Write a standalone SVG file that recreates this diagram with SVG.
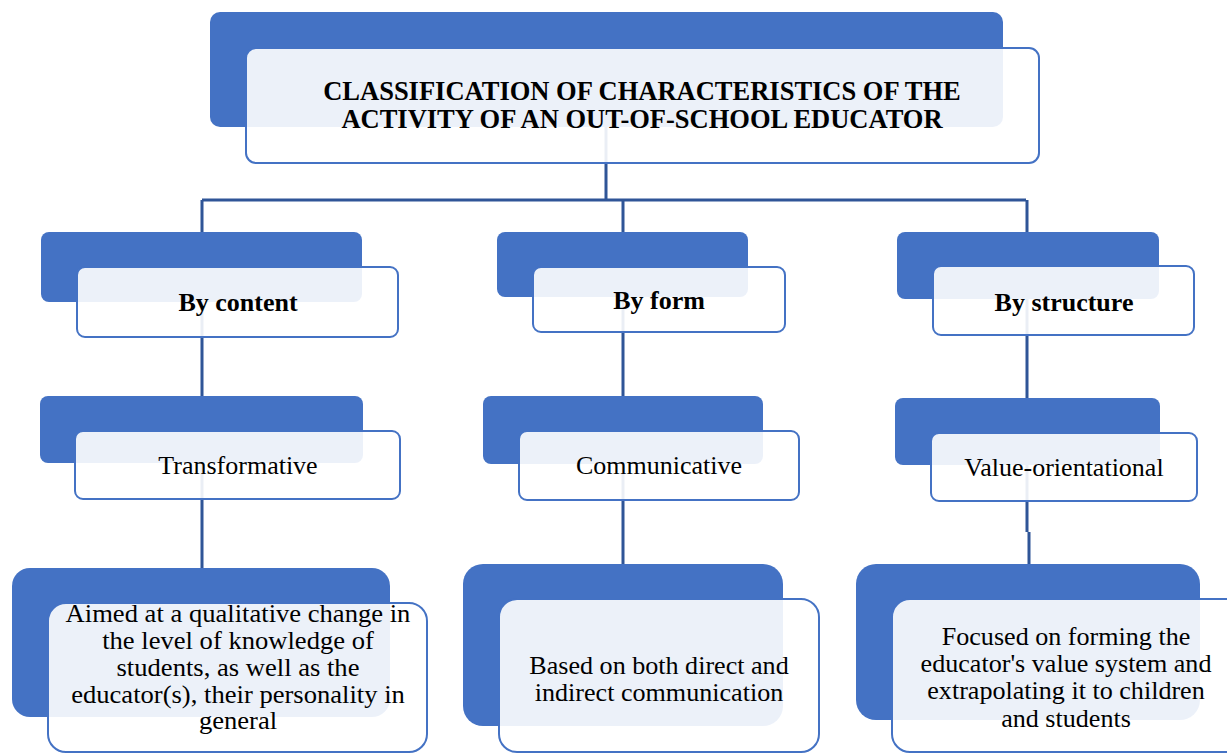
<svg xmlns="http://www.w3.org/2000/svg" width="1227" height="755" viewBox="0 0 1227 755">
<style>
.back{fill:#4472C4;}
.front{fill:#FFFFFF;fill-opacity:0.9;stroke:#4472C4;stroke-width:2;}
.conn{stroke:#2F5597;stroke-width:3;fill:none;}
text{font-family:'Liberation Serif','Times New Roman',serif;font-size:26px;fill:#000;text-anchor:middle;}
.b{font-weight:bold;}
.t{font-size:26.5px;}
.m{font-size:24.4px;}
</style>
<rect width="1227" height="755" fill="#FFFFFF"/>
<g id="connectors">
<path class="conn" d="M606 125 V200 M202 200 H623 M606 200 H1026"/>
<path class="conn" d="M623 200 V565"/>
<path class="conn" d="M202 200 V568"/>
<path class="conn" d="M1027 200 V532 M1029 532 V565"/>
</g>
<g id="title">
<rect class="back" x="210" y="12" width="793" height="115" rx="10"/>
<rect class="front" x="246" y="48" width="793" height="115" rx="10"/>
<text class="b t" x="642" y="100">CLASSIFICATION OF CHARACTERISTICS OF THE</text>
<text class="b t" x="642" y="128">ACTIVITY OF AN OUT-OF-SCHOOL EDUCATOR</text>
</g>
<g id="by-content">
<rect class="back" x="41" y="232" width="321" height="70" rx="8"/>
<rect class="front" x="77" y="267" width="321" height="70" rx="8"/>
<text class="b" x="238" y="311">By content</text>
</g>
<g id="by-form">
<rect class="back" x="497" y="232" width="251" height="65" rx="8"/>
<rect class="front" x="533" y="267" width="252" height="65" rx="8"/>
<text class="b" x="659" y="309">By form</text>
</g>
<g id="by-structure">
<rect class="back" x="897" y="232" width="262" height="67" rx="8"/>
<rect class="front" x="933" y="266" width="261" height="69" rx="8"/>
<text class="b" x="1064" y="311">By structure</text>
</g>
<g id="transformative">
<rect class="back" x="40" y="396" width="323" height="67" rx="8"/>
<rect class="front" x="75" y="431" width="325" height="68" rx="8"/>
<text x="238" y="474">Transformative</text>
</g>
<g id="communicative">
<rect class="back" x="483" y="396" width="280" height="68" rx="8"/>
<rect class="front" x="519" y="431" width="280" height="69" rx="8"/>
<text x="659" y="474">Communicative</text>
</g>
<g id="value-orientational">
<rect class="back" x="895" y="398" width="265" height="67" rx="8"/>
<rect class="front" x="931" y="433" width="266" height="68" rx="8"/>
<text x="1064" y="476">Value-orientational</text>
</g>
<g id="aimed">
<rect class="back" x="12" y="568" width="378" height="149" rx="18"/>
<rect class="front" x="48" y="603" width="379" height="149" rx="18"/>
<g transform="translate(238,0) scale(1.09,1)">
<text class="m" x="0" y="622">Aimed at a qualitative change in</text>
<text class="m" x="0" y="649">the level of knowledge of</text>
<text class="m" x="0" y="676">students, as well as the</text>
<text class="m" x="0" y="703">educator(s), their personality in</text>
<text class="m" x="0" y="729">general</text>
</g>
</g>
<g id="based">
<rect class="back" x="463" y="564" width="320" height="162" rx="20"/>
<rect class="front" x="499" y="599" width="320" height="153" rx="18"/>
<g transform="translate(659,0) scale(1.07,1)">
<text class="m" x="0" y="674">Based on both direct and</text>
<text class="m" x="0" y="701">indirect communication</text>
</g>
</g>
<g id="focused">
<rect class="back" x="856" y="564" width="344" height="156" rx="20"/>
<rect class="front" x="892" y="599" width="360" height="153" rx="18"/>
<g transform="translate(1066,0) scale(1.07,1)">
<text class="m" x="0" y="645">Focused on forming the</text>
<text class="m" x="0" y="672">educator's value system and</text>
<text class="m" x="0" y="699">extrapolating it to children</text>
<text class="m" x="0" y="727">and students</text>
</g>
</g>
</svg>
